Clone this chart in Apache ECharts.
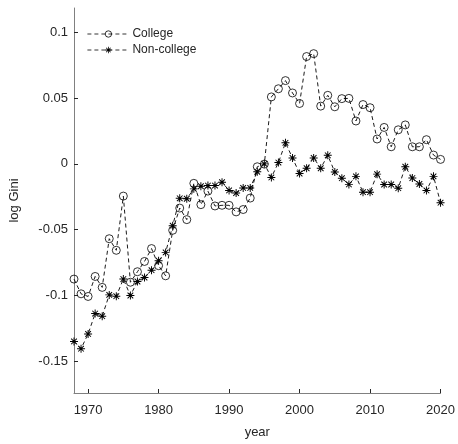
<!DOCTYPE html>
<html>
<head>
<meta charset="utf-8">
<script src="https://cdn.jsdelivr.net/npm/echarts@6/dist/echarts.min.js"></script>
<style>
html,body{margin:0;padding:0;background:#fff;}
#chart{width:458px;height:444px;}
</style>
</head>
<body>
<div id="chart"></div>
<script>
const years = [1968,1969,1970,1971,1972,1973,1974,1975,1976,1977,1978,1979,1980,1981,1982,1983,1984,1985,1986,1987,1988,1989,1990,1991,1992,1993,1994,1995,1996,1997,1998,1999,2000,2001,2002,2003,2004,2005,2006,2007,2008,2009,2010,2011,2012,2013,2014,2015,2016,2017,2018,2019,2020];
const college = [-0.0876,-0.0988,-0.1008,-0.0856,-0.0939,-0.0569,-0.0657,-0.0245,-0.0900,-0.0820,-0.0742,-0.0644,-0.0774,-0.0851,-0.0505,-0.0336,-0.0424,-0.0148,-0.0310,-0.0207,-0.0320,-0.0315,-0.0315,-0.0365,-0.0347,-0.0260,-0.0022,-0.0002,0.0509,0.0571,0.0633,0.0539,0.0459,0.0816,0.0838,0.0439,0.0521,0.0434,0.0496,0.0498,0.0326,0.0451,0.0427,0.0189,0.0277,0.0130,0.0259,0.0296,0.0130,0.0130,0.0184,0.0067,0.0034];
const nonCollege = [-0.1350,-0.1405,-0.1293,-0.1138,-0.1158,-0.0996,-0.1006,-0.0876,-0.1001,-0.0894,-0.0864,-0.0808,-0.0736,-0.0673,-0.0470,-0.0262,-0.0265,-0.0190,-0.0170,-0.0165,-0.0165,-0.0140,-0.0202,-0.0222,-0.0183,-0.0183,-0.0060,0.0000,-0.0103,0.0010,0.0160,0.0045,-0.0073,-0.0033,0.0045,-0.0033,0.0065,-0.0062,-0.0109,-0.0156,-0.0095,-0.0215,-0.0215,-0.0078,-0.0157,-0.0157,-0.0185,-0.0022,-0.0108,-0.0153,-0.0202,-0.0095,-0.0295];
const xTicks = [1970,1980,1990,2000,2010,2020];
const yTicks = [-0.15,-0.1,-0.05,0,0.05,0.1];
const seriesNames = ['College','Non-college'];

const asterisk = 'path://M0 8.8L20 8.8L20 11.2L0 11.2Z M8.8 0L11.2 0L11.2 20L8.8 20Z ' +
  'M3.78 2.08L17.92 16.22L16.22 17.92L2.08 3.78Z M16.22 2.08L17.92 3.78L3.78 17.92L2.08 16.22Z';

const font = "'Liberation Sans', Arial, Helvetica, sans-serif";
const txt = '#262626';
const axisCol = '#808080';

const chart = echarts.init(document.getElementById('chart'), null, {renderer:'canvas'});
chart.setOption({
  animation: false,
  backgroundColor: '#fff',
  textStyle: {fontFamily: font},
  grid: {left: 69, right: 17, top: 8, bottom: 45, containLabel: false},
  legend: {
    orient: 'vertical', left: 82, top: 23, itemGap: 4,
    itemWidth: 42, itemHeight: 8,
    lineStyle: {width: 0.8},
    itemStyle: {borderWidth: 0.8},
    textStyle: {fontFamily: font, fontSize: 12, color: txt, padding: [0,0,0,-2]},
    data: seriesNames
  },
  xAxis: {
    type: 'value', min: 1968, max: 2020,
    name: 'year', nameLocation: 'middle', nameGap: 33,
    nameTextStyle: {fontFamily: font, fontSize: 13, color: txt},
    axisLine: {show: true, onZero: false, lineStyle: {color: axisCol, width: 1}},
    axisTick: {show: true, inside: true, length: 4, customValues: xTicks, lineStyle: {color: txt}},
    axisLabel: {customValues: xTicks, fontFamily: font, fontSize: 13, color: txt, margin: 11, formatter: v => String(v)},
    splitLine: {show: false}
  },
  yAxis: {
    type: 'value', min: -0.1742, max: 0.1185,
    name: 'log Gini', nameLocation: 'middle', nameGap: 53,
    nameTextStyle: {fontFamily: font, fontSize: 13, color: txt},
    axisLine: {show: true, onZero: false, lineStyle: {color: axisCol, width: 1}},
    axisTick: {show: true, inside: true, length: 4, customValues: yTicks, lineStyle: {color: txt}},
    axisLabel: {customValues: yTicks, fontFamily: font, fontSize: 13, color: txt, margin: 6,
      formatter: v => String(Math.round(v*100)/100)},
    splitLine: {show: false}
  },
  series: [
    {
      name: seriesNames[0], type: 'line',
      data: years.map((y,i) => [y, college[i]]),
      symbol: 'circle', symbolSize: 8,
      itemStyle: {color: 'rgba(255,255,255,0)', borderColor: '#000', borderWidth: 0.8},
      lineStyle: {color: '#000', width: 0.9, type: [4,3]},
      z: 2
    },
    {
      name: seriesNames[1], type: 'line',
      data: years.map((y,i) => [y, nonCollege[i]]),
      symbol: asterisk, symbolSize: 8,
      itemStyle: {color: '#000', borderWidth: 0},
      lineStyle: {color: '#000', width: 0.9, type: [4,3]},
      z: 3
    }
  ]
});
</script>
</body>
</html>
